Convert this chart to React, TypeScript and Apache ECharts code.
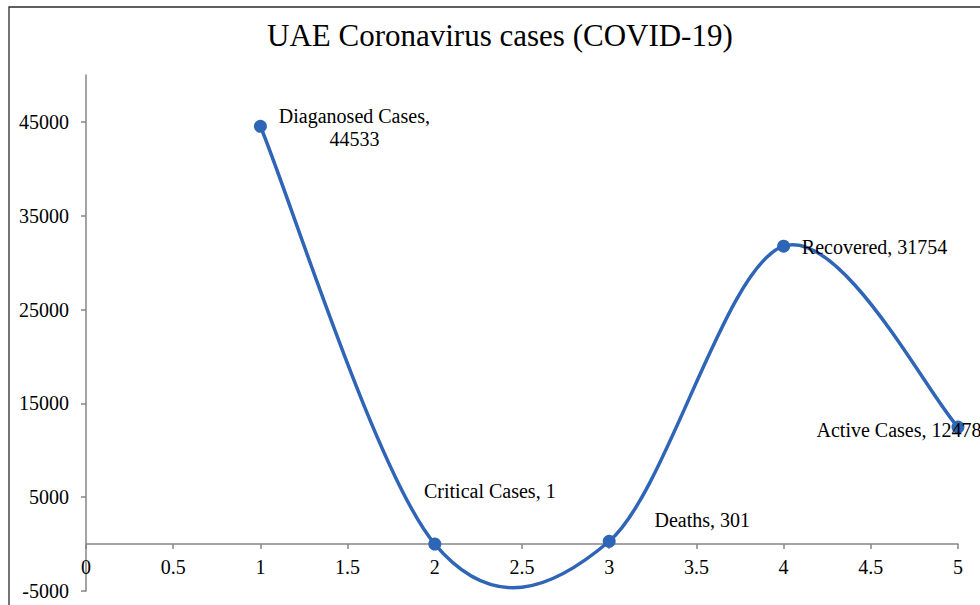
import React, { useEffect, useRef } from "react";
import * as echarts from "echarts";

const categories = ["Diaganosed Cases", "Critical Cases", "Deaths", "Recovered", "Active Cases"];
const xValues = [1, 2, 3, 4, 5];
const caseValues = [44533, 1, 301, 31754, 12478];
const labelOffsets: [number, number][] = [
  [94, 1],
  [55, -53],
  [93, -21],
  [91, 1],
  [-59, 3],
];
const yMin = -5000;
const yMax = 50000;
const yInterval = 10000;

const FONT = "'Liberation Serif', 'Times New Roman', serif";
const BLUE = "#2f65b6";
const AXIS = "#868686";

const GRID_TOP = 75;
const GRID_BOTTOM = 14;
const HEIGHT = 605;

export default function App() {
  const ref = useRef<HTMLDivElement>(null);
  useEffect(() => {
    if (!ref.current) return;
    const chart = echarts.init(ref.current, undefined, { renderer: "svg" });
    const pts = xValues.map((x, i) => [x, caseValues[i]]);
    const n = pts.length;
    const gridH = HEIGHT - GRID_TOP - GRID_BOTTOM;
    // distance from grid bottom to the value-0 line, so the x axis sits at zero
    const zeroOffset = -(gridH * (0 - yMin)) / (yMax - yMin);
    chart.setOption({
      animation: false,
      backgroundColor: "#ffffff",
      title: {
        text: "UAE Coronavirus cases (COVID-19)",
        left: 262,
        top: 15,
        textStyle: { fontFamily: FONT, fontSize: 31, fontWeight: "normal", color: "#000" },
      },
      graphic: [
        {
          type: "rect",
          shape: { x: 9, y: 7, width: 1000, height: 700 },
          style: { fill: "none", stroke: "#2b2b2b", lineWidth: 1.3 },
          silent: true,
        },
      ],
      grid: { left: 86, right: 22, top: GRID_TOP, bottom: GRID_BOTTOM, containLabel: false, outerBoundsMode: "none" },
      xAxis: {
        type: "value",
        position: "bottom",
        offset: zeroOffset,
        min: 0,
        max: 5,
        interval: 0.5,
        splitLine: { show: false },
        axisLine: { onZero: false, lineStyle: { color: AXIS, width: 1.5 } },
        axisTick: { show: true, length: 5, lineStyle: { color: AXIS, width: 1.5 } },
        axisLabel: { margin: 13, fontFamily: FONT, fontSize: 20, color: "#000" },
      },
      yAxis: {
        type: "value",
        min: yMin,
        max: yMax,
        interval: yInterval,
        splitLine: { show: false },
        axisLine: { show: true, onZero: false, lineStyle: { color: AXIS, width: 1.5 } },
        axisTick: { show: true, length: 5, lineStyle: { color: AXIS, width: 1.5 } },
        axisLabel: {
          margin: 17,
          fontFamily: FONT,
          fontSize: 20,
          color: "#000",
          showMaxLabel: false,
          formatter: (v: number) => String(v),
        },
      },
      series: [
        {
          type: "custom",
          data: pts,
          encode: { x: 0, y: 1 },
          clip: false,
          z: 2,
          renderItem: (params: any, api: any) => {
            const i = params.dataIndex;
            if (i >= n - 1) return null;
            const c = (k: number) => {
              const kk = Math.max(0, Math.min(n - 1, k));
              return api.coord(pts[kk]);
            };
            const p0 = c(i - 1);
            const p1 = c(i);
            const p2 = c(i + 1);
            const p3 = c(i + 2);
            return {
              type: "bezierCurve",
              shape: {
                x1: p1[0],
                y1: p1[1],
                x2: p2[0],
                y2: p2[1],
                cpx1: p1[0] + (p2[0] - p0[0]) / 6,
                cpy1: p1[1] + (p2[1] - p0[1]) / 6,
                cpx2: p2[0] - (p3[0] - p1[0]) / 6,
                cpy2: p2[1] - (p3[1] - p1[1]) / 6,
              },
              style: { fill: "none", stroke: BLUE, lineWidth: 3.5 },
            };
          },
        },
        {
          type: "scatter",
          symbol: "circle",
          symbolSize: 13,
          z: 3,
          itemStyle: { color: BLUE, opacity: 1 },
          data: pts.map((p, i) => ({
            value: p,
            label: {
              show: true,
              position: "inside",
              offset: labelOffsets[i],
              align: "center",
              verticalAlign: "middle",
              fontFamily: FONT,
              fontSize: 20,
              lineHeight: 23,
              color: "#000",
              formatter: i === 0 ? `${categories[i]},\n${caseValues[i]}` : `${categories[i]}, ${caseValues[i]}`,
            },
          })),
        },
      ],
    });
    return () => chart.dispose();
  }, []);
  return (
    <div
      ref={ref}
      style={{ position: "absolute", left: 0, top: 0, width: 980, height: 605 }}
    />
  );
}
